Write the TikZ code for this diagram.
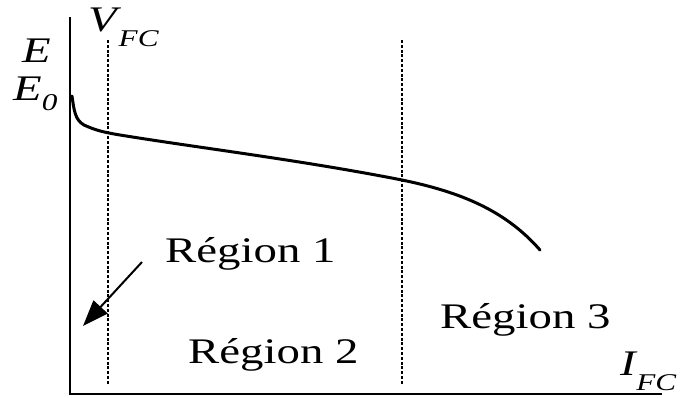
\documentclass[tikz,border=0pt]{standalone}
\usepackage{fontspec}
\setmainfont{Liberation Serif}
\usetikzlibrary{arrows.meta}
\newcommand\wide[1]{\scalebox{1.3}[1]{#1}}
\newcommand\bigtxt{\fontsize{36}{40}\selectfont}
\newcommand\subtxt{\fontsize{24}{26}\selectfont}
\begin{document}
\begin{tikzpicture}[x=1pt,y=-1pt,
  axis/.style={line width=2.6pt},
  curve/.style={line width=3pt,line cap=round},
  divider/.style={line width=2pt,dash pattern=on 3pt off 1.8pt},
  lbl/.style={inner sep=0pt,anchor=base west,font=\bigtxt},
  pointer/.style={line width=2pt,-{Triangle[length=26pt,width=19pt]}}]
\useasboundingbox (0,0) rectangle (680,397);
% axes
\coordinate (o) at (70,394);
\coordinate (ytop) at (70,17);
\coordinate (xend) at (662,394);
\draw[axis] (ytop) -- (o) -- (xend);
% region boundaries
\coordinate (d1t) at (108,40);
\coordinate (d1b) at (108,384);
\coordinate (d2t) at (402,40);
\coordinate (d2b) at (402,384);
\draw[divider] (d1t) -- (d1b);
\draw[divider] (d2t) -- (d2b);
% polarisation curve
\draw[curve] (72,96) .. controls (74,110) and (75,120) .. (84,125)
  .. controls (95,130) and (102,132) .. (120,135)
  .. controls (200,148) and (300,160) .. (402,180)
  .. controls (460,192) and (505,210) .. (540,250);
% axis labels
\node[lbl] (E) at (22,62) {\wide{\textit{E}}};
\node[lbl] (E0) at (13,100) {\wide{\textit{E}\raisebox{-0.28em}{\subtxt\textit{0}}}};
\node[lbl] (V) at (88,31) {\wide{\textit{V}\kern-2pt\raisebox{-0.42em}{\subtxt\textit{FC}}}};
\node[lbl] (I) at (620,375) {\wide{\textit{I}\kern-1pt\raisebox{-0.42em}{\subtxt\textit{FC}}}};
% region labels
\node[lbl] (r1) at (165,262) {\wide{Région 1}};
\node[lbl] (r2) at (188,363) {\wide{Région 2}};
\node[lbl] (r3) at (440,328) {\wide{Région 3}};
\coordinate (ptail) at (142,262);
\coordinate (phead) at (83,326);
\draw[pointer] (ptail) -- (phead);
\end{tikzpicture}
\end{document}
